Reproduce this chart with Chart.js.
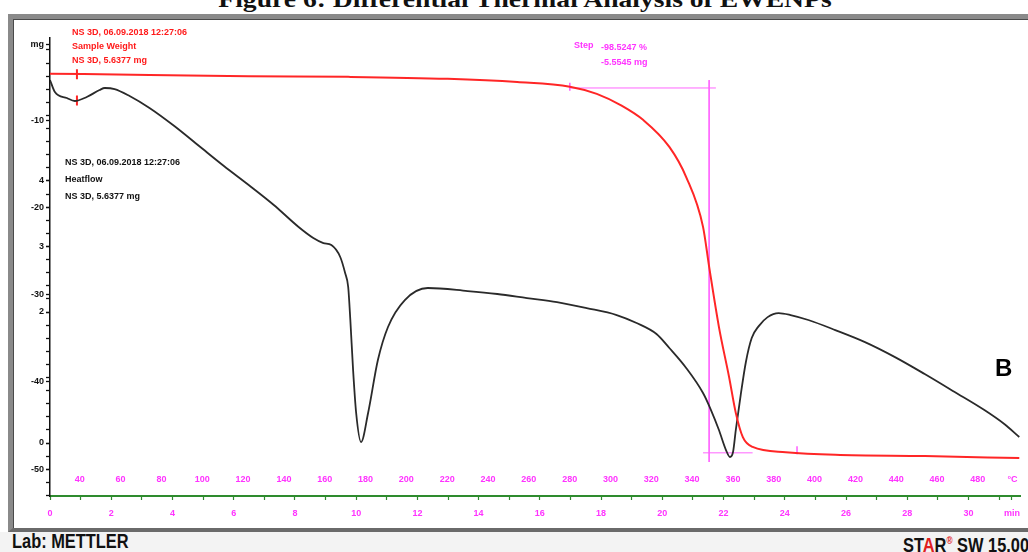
<!DOCTYPE html>
<html><head><meta charset="utf-8">
<script src="https://cdn.jsdelivr.net/npm/chart.js@4.4.1/dist/chart.umd.min.js"></script>
<style>
html,body{margin:0;padding:0;background:#fff;width:1028px;height:552px;overflow:hidden;position:relative;}
#title{position:absolute;left:0;width:1050px;top:-12px;text-align:center;font:bold 24px "Liberation Serif",serif;line-height:22px;color:#111;white-space:nowrap;transform:scaleX(1.15);transform-origin:525px 0;}
#frame{position:absolute;left:8px;top:14px;width:1040px;height:509px;border-top:5px solid #8a8a8a;border-left:5px solid #8a8a8a;border-bottom:4px solid #6a6a6a;background:#fff;box-shadow:inset 1px 1px 0 #4a4a4a;}
#footer{position:absolute;left:0;top:532px;width:1028px;height:20px;background:#f3f3f3;}
.ft{position:absolute;font:bold 20px "Liberation Sans",Arial,sans-serif;color:#111;white-space:nowrap;line-height:20px;transform:scaleX(0.82);transform-origin:0 0;}
canvas{position:absolute;left:0;top:0;}
.lg{position:absolute;font:bold 9px "Liberation Sans Narrow","Arial Narrow",sans-serif;white-space:nowrap;}
</style></head>
<body>
<div id="title">Figure 6: Differential Thermal Analysis of EWENPs</div>
<div id="frame"></div>
<div id="footer"></div>
<div class="ft" style="left:12px;top:531px;">Lab: METTLER</div>
<div class="ft" style="left:903px;top:531px;">ST<span style="color:#e02020">A</span>R<sup style="color:#e02020;font-size:10px">®</sup> SW 15.00</div>
<canvas id="c" width="1028" height="552"></canvas>
<div class="lg" style="left:72px;top:25px;line-height:14px;color:#ff1a1a;">NS 3D, 06.09.2018 12:27:06<br>Sample Weight<br>NS 3D, 5.6377 mg</div>
<div class="lg" style="left:65px;top:154px;line-height:17px;color:#111;">NS 3D, 06.09.2018 12:27:06<br>Heatflow<br>NS 3D, 5.6377 mg</div>
<div class="lg" style="left:574px;top:40px;color:#ff33ff;">Step</div>
<div class="lg" style="left:601px;top:40px;line-height:15px;color:#ff33ff;">-98.5247 %<br>-5.5545 mg</div>
<div style="position:absolute;left:995px;top:354px;font:bold 24px 'Liberation Sans',sans-serif;color:#000;">B</div>
<script>
// ---- data ----
const timeHF = [0,0.16,0.55,0.81,1.20,1.62,1.79,2.11,2.60,3.25,4.06,4.87,5.68,6.49,7.31,8.12,8.60,8.93,9.19,9.48,9.64,9.74,9.81,9.90,10.00,10.16,10.39,10.71,11.04,11.59,12.34,13.64,14.61,15.58,16.56,17.53,18.51,19.16,19.81,20.23,20.78,21.33,21.59,21.85,22.08,22.21,22.31,22.40,22.56,22.73,22.92,23.15,23.44,23.80,24.19,24.77,25.65,26.62,27.60,28.57,29.55,30.52,31.17,31.66];
const heatFlow = [-5.42,-6.79,-7.48,-7.82,-7.36,-6.56,-6.33,-6.45,-7.25,-8.62,-10.69,-12.98,-15.27,-17.45,-19.74,-22.26,-23.52,-24.10,-24.33,-25.70,-27.54,-29.14,-32.92,-38.65,-43.58,-46.91,-43.58,-37.51,-33.72,-30.63,-29.25,-29.60,-29.94,-30.40,-30.86,-31.55,-32.35,-33.27,-34.53,-36.13,-38.42,-41.29,-43.24,-45.53,-47.82,-48.62,-48.05,-45.53,-41.52,-37.73,-34.99,-33.62,-32.59,-32.13,-32.35,-32.92,-34.07,-35.45,-37.17,-39.11,-41.17,-43.24,-44.84,-46.33];
const timeW = [0,3.25,6.49,9.74,12.99,15.26,16.98,17.86,18.67,19.38,20.23,20.78,21.33,21.53,21.85,22.18,22.40,22.63,22.95,24.03,25.65,28.57,31.66];
const weightMg = [5.638,5.62,5.60,5.59,5.56,5.51,5.44,5.33,5.15,4.93,4.52,4.06,3.30,2.69,1.77,1.01,0.46,0.09,-0.06,-0.14,-0.18,-0.20,-0.23];
const stepTopT = [16.98, 21.75], stepTopMg = [5.42, 5.42];
const stepVertT = [21.53, 21.53], stepVertMg = [5.54, -0.29];
const stepBotT = [21.33, 22.95], stepBotMg = [-0.15, -0.15];
const redMarkT = [0.88], redMarkMg = [5.63];
const redMarkHfT = [0.88], redMarkHf = [-7.75];
const stepMarkT = [16.98, 24.40], stepMarkMg = [5.44, -0.11];
const mgTickLabels = [0, 2, 3, 4];
const mWTickLabels = [-10, -20, -30, -40, -50];
const timeTickLabels = [0,2,4,6,8,10,12,14,16,18,20,22,24,26,28,30];
const tempTickLabels = [40,60,80,100,120,140,160,180,200,220,240,260,280,300,320,340,360,380,400,420,440,460,480];
const heatRate = 15, startTemp = 25.4;

// ---- ranges ----
const X_MIN = 0, X_MAX = 31.69;
const Y_MIN = -0.809, Y_MAX = 6.183;
const Y2_MIN = -53.09, Y2_MAX = -0.60;
const mwToMg = m => Y_MIN + (m - Y2_MIN) / (Y2_MAX - Y2_MIN) * (Y_MAX - Y_MIN);
const pts = (xs, ys) => xs.map((x, i) => ({x, y: ys[i]}));

const MAG = '#ff33ff';
const font9 = {family: '"Liberation Sans Narrow","Arial Narrow",sans-serif', size: 9, weight: 'bold'};

new Chart(document.getElementById('c'), {
  type: 'scatter',
  data: {datasets: [
    {data: pts(timeW, weightMg), showLine: true, borderColor: '#ff2626', borderWidth: 2, pointRadius: 0, cubicInterpolationMode: 'monotone', xAxisID: 'x', yAxisID: 'y'},
    {data: pts(timeHF, heatFlow), showLine: true, borderColor: '#2a2a2a', borderWidth: 1.8, pointRadius: 0, cubicInterpolationMode: 'monotone', xAxisID: 'x', yAxisID: 'y2'},
    {data: pts(stepTopT, stepTopMg), showLine: true, borderColor: '#ff66ff', borderWidth: 1, pointRadius: 0, xAxisID: 'x', yAxisID: 'y'},
    {data: pts(stepVertT, stepVertMg), showLine: true, borderColor: '#ff66ff', borderWidth: 1, pointRadius: 0, xAxisID: 'x', yAxisID: 'y'},
    {data: pts(stepBotT, stepBotMg), showLine: true, borderColor: '#ff66ff', borderWidth: 1, pointRadius: 0, xAxisID: 'x', yAxisID: 'y'},
    {data: pts(redMarkT, redMarkMg), pointStyle: 'line', rotation: 90, radius: 5, borderColor: '#ff2626', borderWidth: 2, xAxisID: 'x', yAxisID: 'y'},
    {data: pts(redMarkHfT, redMarkHf), pointStyle: 'line', rotation: 90, radius: 5, borderColor: '#ff2626', borderWidth: 2, xAxisID: 'x', yAxisID: 'y2'},
    {data: pts(stepMarkT, stepMarkMg), pointStyle: 'line', rotation: 90, radius: 4, borderColor: MAG, borderWidth: 1.2, xAxisID: 'x', yAxisID: 'y'}
  ]},
  options: {
    responsive: false, animation: false, devicePixelRatio: 1,
    layout: {padding: {left: 0, top: 38, right: 2, bottom: 32}},
    plugins: {legend: {display: false}, tooltip: {enabled: false}},
    scales: {
      x: {
        type: 'linear', position: 'bottom', min: X_MIN, max: X_MAX, bounds: 'data',
        border: {display: true, color: '#2e8b2e', width: 2},
        grid: {drawOnChartArea: false, drawTicks: true, tickLength: 4, tickColor: '#2e8b2e', tickWidth: 1.2},
        ticks: {color: MAG, font: font9, padding: 8, autoSkip: false, maxRotation: 0,
          callback: (v, i, t) => t[i].lab},
        afterBuildTicks: s => {
          const t = [];
          for (let m = 0; m <= 31; m++) t.push({value: m, lab: timeTickLabels.includes(m) ? String(m) : ''});
          t.push({value: 31.42, lab: 'min'});
          s.ticks = t;
        },
        afterFit: s => { s.height = 24; }
      },
      x2: {
        type: 'linear', axis: 'x', position: {y: -0.427},
        min: startTemp + heatRate * X_MIN, max: startTemp + heatRate * X_MAX, bounds: 'data',
        border: {display: false},
        grid: {display: false, drawOnChartArea: false, drawTicks: false},
        ticks: {color: MAG, font: font9, padding: 3, autoSkip: false, maxRotation: 0,
          callback: (v, i, t) => t[i].lab},
        afterBuildTicks: s => {
          const t = tempTickLabels.map(v => ({value: v, lab: String(v)}));
          t.push({value: 497, lab: '°C'});
          s.ticks = t;
        }
      },
      y: {
        type: 'linear', position: 'left', min: Y_MIN, max: Y_MAX, bounds: 'data',
        border: {display: true, color: '#111', width: 1.5},
        grid: {drawOnChartArea: false, drawTicks: true, tickLength: 4, tickColor: '#111', tickWidth: 1.3},
        ticks: {color: '#111', font: font9, padding: 2, autoSkip: false,
          callback: (v, i, t) => t[i].lab},
        afterBuildTicks: s => {
          const t = [];
          for (let k = -4; k <= 30; k++) t.push({value: k / 5, lab: ''});
          mgTickLabels.forEach(v => t.push({value: v, lab: String(v)}));
          mWTickLabels.forEach(m => t.push({value: mwToMg(m), lab: String(m)}));
          t.push({value: 6.08, lab: 'mg'});
          t.sort((a, b) => a.value - b.value);
          s.ticks = t;
        },
        afterFit: s => { s.width = 50; }
      },
      y2: {type: 'linear', display: false, min: Y2_MIN, max: Y2_MAX}
    }
  }
});
</script>
</body></html>
